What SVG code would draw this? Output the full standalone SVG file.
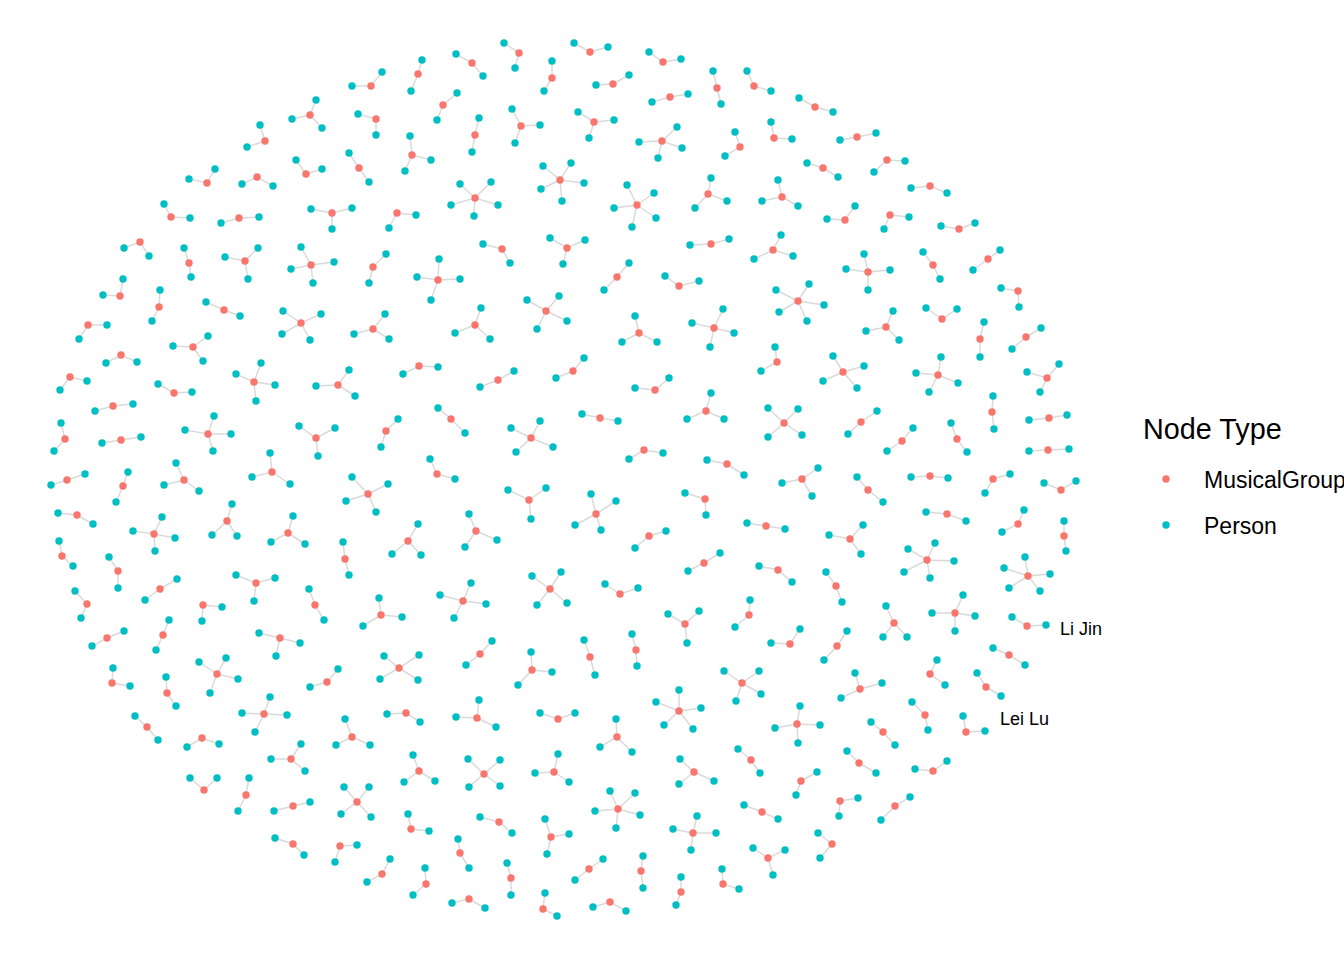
<svg xmlns="http://www.w3.org/2000/svg" xmlns:xlink="http://www.w3.org/1999/xlink" width="1344" height="960" viewBox="0 0 1344 960">
<style>
#edges path{fill:none;stroke:#dadada;stroke-width:1.5}
text{font-family:"Liberation Sans",Arial,sans-serif;fill:#000}
.lab{font-size:18px}
</style>
<defs>
<circle id="m" r="3.7" fill="#F8766D"/>
<circle id="p" r="3.7" fill="#00BFC4"/>
</defs>
<rect width="1344" height="960" fill="#fff"/>
<g id="edges">
<path d="M352 86L371 86 382 72"/><path d="M316 100L310 115 292 119M310 115L322 128"/><path d="M358 114L376 119 376 135"/><path d="M260 125L265 141 247 147"/><path d="M296 160L306 174 322 169"/><path d="M349 153L359 168 369 182"/><path d="M189 179L207 183 215 169"/><path d="M242 184L257 177 273 186"/><path d="M164 204L171 217 190 218"/><path d="M221 223L239 218 259 217"/>
<path d="M311 209L332 213 352 208M332 213L332 229"/><path d="M389 228L397 213 416 215"/><path d="M124 248L140 242 149 256"/><path d="M184 248L189 263 191 277"/><path d="M225 257L245 261 258 248M245 261L248 279"/><path d="M301 247L311 265 291 269M311 265L334 262M311 265L313 283"/><path d="M386 254L373 267 369 283"/><path d="M422 60L418 74 411 91"/><path d="M456 54L472 63 483 76"/><path d="M504 43L519 53 515 68"/>
<path d="M552 61L552 78 544 91"/><path d="M574 43L590 52 608 47"/><path d="M649 52L663 62 681 59"/><path d="M596 85L613 84 629 75"/><path d="M713 71L717 88 721 104"/><path d="M747 71L754 86 771 91"/><path d="M457 93L443 105 437 120"/><path d="M652 102L670 97 688 94"/><path d="M479 118L475 135 472 152"/><path d="M512 109L521 126 540 125M521 126L515 143"/>
<path d="M578 112L594 122 614 120M594 122L589 138"/><path d="M639 142L662 141 677 127M662 141L682 148M662 141L658 158"/><path d="M735 132L740 147 725 156"/><path d="M410 136L412 155 431 160M412 155L405 171"/><path d="M543 166L560 180 571 163M560 180L584 183M560 180L562 201M560 180L541 189"/><path d="M460 184L475 198 491 182M475 198L498 205M475 198L474 216M475 198L451 205"/><path d="M627 185L637 205 654 193M637 205L656 218M637 205L632 227M637 205L614 208"/><path d="M711 178L708 194 727 201M708 194L695 208"/><path d="M483 244L502 249 510 263"/><path d="M550 238L567 248 585 240M567 248L563 264"/>
<path d="M690 245L711 244 729 239"/><path d="M439 259L438 280 417 277M438 280L460 279M438 280L431 300"/><path d="M629 263L617 277 604 290"/><path d="M799 98L815 107 833 112"/><path d="M771 122L774 138 792 139"/><path d="M840 140L857 137 876 133"/><path d="M807 163L823 168 838 177"/><path d="M874 172L887 160 905 161"/><path d="M911 188L930 186 947 193"/><path d="M778 180L782 197 762 201M782 197L798 206"/>
<path d="M827 219L845 220 855 206"/><path d="M909 217L890 215 884 229"/><path d="M941 226L959 229 975 223"/><path d="M781 235L773 250 754 259M773 250L793 256"/><path d="M864 254L868 272 846 269M868 272L890 270M868 272L868 290"/><path d="M923 252L933 265 940 279"/><path d="M1000 250L988 259 973 270"/><path d="M123 279L120 296 103 295"/><path d="M160 290L159 307 152 321"/><path d="M206 302L224 310 240 316"/>
<path d="M283 311L301 323 321 314M301 323L310 340M301 323L282 334"/><path d="M385 314L373 329 354 334M373 329L389 339"/><path d="M107 325L88 325 79 339"/><path d="M173 346L193 347 208 336M193 347L203 361"/><path d="M106 363L121 355 137 362"/><path d="M87 381L70 377 60 390"/><path d="M236 374L254 382 261 363M254 382L275 385M254 382L256 401"/><path d="M349 370L338 385 316 386M338 385L355 396"/><path d="M158 384L174 393 192 392"/><path d="M95 411L113 406 133 404"/>
<path d="M61 423L65 439 54 451"/><path d="M102 443L121 440 141 437"/><path d="M185 430L208 434 214 416M208 434L231 434M208 434L213 451"/><path d="M299 426L316 438 335 428M316 438L318 456"/><path d="M398 419L386 431 381 447"/><path d="M51 485L67 480 85 474"/><path d="M128 472L123 486 116 502"/><path d="M176 463L184 480 164 485M184 480L199 491"/><path d="M270 453L272 472 252 477M272 472L290 484"/><path d="M352 477L368 494 388 484M368 494L346 501M368 494L376 512"/>
<path d="M403 374L419 366 438 367"/><path d="M665 276L679 286 699 281"/><path d="M481 308L475 325 455 333M475 325L490 339"/><path d="M527 300L546 311 559 296M546 311L567 321M546 311L537 329"/><path d="M635 316L639 333 622 342M639 333L657 342"/><path d="M723 309L714 328 692 323M714 328L734 333M714 328L710 347"/><path d="M480 387L498 380 514 371"/><path d="M556 378L573 371 584 358"/><path d="M635 388L655 390 669 378"/><path d="M438 408L451 419 465 433"/>
<path d="M511 428L531 438 540 421M531 438L553 447M531 438L516 452"/><path d="M582 414L600 418 618 421"/><path d="M711 393L706 411 687 419M706 411L724 419"/><path d="M629 459L644 450 663 453"/><path d="M707 460L727 464 744 475"/><path d="M430 459L437 474 455 479"/><path d="M776 290L798 301 809 284M798 301L824 305M798 301L807 321M798 301L779 312"/><path d="M1001 288L1018 291 1019 307"/><path d="M926 308L942 319 957 309"/><path d="M893 311L886 327 866 331M886 327L899 340"/>
<path d="M984 322L980 339 980 357"/><path d="M1041 328L1026 337 1012 349"/><path d="M775 347L777 362 761 371"/><path d="M833 356L843 372 864 366M843 372L857 388M843 372L823 381"/><path d="M941 357L938 375 916 373M938 375L958 383M938 375L929 392"/><path d="M1059 364L1047 378 1027 372M1047 378L1040 392"/><path d="M768 408L784 423 798 409M784 423L802 435M784 423L768 437"/><path d="M877 411L861 422 848 434"/><path d="M913 428L902 441 887 451"/><path d="M951 423L957 439 967 452"/>
<path d="M993 396L992 412 994 429"/><path d="M1029 420L1049 418 1067 415"/><path d="M1029 451L1048 450 1069 449"/><path d="M818 468L802 479 782 483M802 479L812 496"/><path d="M857 477L868 490 883 502"/><path d="M911 477L930 476 948 478"/><path d="M1010 474L993 479 985 493"/><path d="M1044 483L1061 490 1076 481"/><path d="M58 513L77 515 93 524"/><path d="M162 517L154 534 133 531M154 534L175 538M154 534L155 551"/>
<path d="M232 504L227 521 212 535M227 521L237 536"/><path d="M293 516L288 533 271 542M288 533L305 544"/><path d="M59 541L62 556 73 566"/><path d="M109 557L118 571 118 588"/><path d="M343 542L345 559 349 575"/><path d="M418 524L408 541 392 554M408 541L421 555"/><path d="M145 600L160 589 177 579"/><path d="M236 575L256 583 275 578M256 583L254 601"/><path d="M75 591L87 604 81 618"/><path d="M222 607L203 605 202 621"/>
<path d="M309 589L315 605 324 620"/><path d="M379 598L381 615 363 626M381 615L402 617"/><path d="M92 646L107 638 124 631"/><path d="M169 620L163 635 156 650"/><path d="M259 633L280 638 300 643M280 638L276 656"/><path d="M199 662L217 674 226 658M217 674L238 679M217 674L210 693"/><path d="M113 668L112 683 130 686"/><path d="M166 677L167 693 176 706"/><path d="M338 669L327 682 310 687"/><path d="M384 656L399 668 380 679M399 668L419 655M399 668L418 680"/>
<path d="M270 697L264 714 242 713M264 714L287 715M264 714L255 732"/><path d="M508 490L529 500 546 488M529 500L531 519"/><path d="M591 494L596 514 616 501M596 514L601 530M596 514L575 525"/><path d="M685 493L705 499 706 515"/><path d="M747 523L766 526 785 529"/><path d="M469 514L476 531 465 547M476 531L497 540"/><path d="M635 548L649 536 666 531"/><path d="M688 571L704 563 720 553"/><path d="M440 595L463 601 471 583M463 601L486 604M463 601L454 618"/><path d="M532 576L550 589 561 572M550 589L567 603M550 589L537 605"/>
<path d="M605 584L620 594 638 588"/><path d="M668 614L685 624 699 611M685 624L687 643"/><path d="M750 600L749 615 735 627"/><path d="M466 665L480 654 492 641"/><path d="M531 652L532 670 552 672M532 670L518 685"/><path d="M584 640L590 657 595 675"/><path d="M632 634L636 650 637 666"/><path d="M724 671L742 683 759 671M742 683L761 694M742 683L736 701"/><path d="M679 690L679 711 656 702M679 711L701 708M679 711L664 725M679 711L693 729"/><path d="M479 700L477 718 456 717M477 718L496 727"/>
<path d="M926 512L947 514 966 521"/><path d="M1024 510L1018 524 1002 532"/><path d="M1064 521L1064 536 1066 551"/><path d="M863 525L850 539 829 535M850 539L861 554"/><path d="M935 543L927 560 908 549M927 560L954 561M927 560L930 578M927 560L904 572"/><path d="M1025 557L1028 576 1004 568M1028 576L1050 574M1028 576L1040 591M1028 576L1009 588"/><path d="M759 566L778 570 792 582"/><path d="M826 572L836 586 842 602"/><path d="M886 606L894 623 883 637M894 623L907 637"/><path d="M963 595L955 613 932 613M955 613L975 616M955 613L955 631"/>
<path d="M1012 617L1027 626 1046 625"/><path d="M771 643L790 644 800 629"/><path d="M847 631L837 646 824 660"/><path d="M993 648L1009 655 1025 665"/><path d="M937 660L930 674 945 685"/><path d="M977 673L986 687 1001 696"/><path d="M855 673L860 689 882 683M860 689L841 698"/><path d="M912 702L925 715 928 730"/><path d="M135 716L147 727 158 740"/><path d="M187 747L202 738 219 744"/>
<path d="M301 744L291 759 271 759M291 759L305 771"/><path d="M345 719L352 737 336 745M352 737L370 745"/><path d="M387 714L406 713 420 722"/><path d="M190 778L204 790 217 778"/><path d="M249 778L246 795 238 811"/><path d="M274 811L293 806 310 802"/><path d="M344 787L357 802 369 787M357 802L341 814M357 802L371 817"/><path d="M275 838L293 844 304 855"/><path d="M357 845L340 846 335 862"/><path d="M390 859L382 874 367 882"/>
<path d="M540 713L558 719 575 713"/><path d="M616 719L617 737 600 747M617 737L632 752"/><path d="M413 755L419 771 404 782M419 771L435 781"/><path d="M468 759L484 774 500 760M484 774L469 787M484 774L500 786"/><path d="M558 754L554 772 535 773M554 772L569 782"/><path d="M680 759L694 772 679 784M694 772L714 781"/><path d="M738 749L751 760 760 773"/><path d="M610 791L618 809 635 793M618 809L640 815M618 809L616 828M618 809L595 811"/><path d="M697 816L693 833 673 829M693 833L716 833M693 833L691 850"/><path d="M408 814L411 829 429 831"/>
<path d="M480 817L499 822 512 833"/><path d="M545 819L551 837 569 834M551 837L547 854"/><path d="M744 805L762 812 778 819"/><path d="M458 839L460 853 469 868"/><path d="M507 863L511 878 511 895"/><path d="M575 880L589 869 603 859"/><path d="M643 856L641 871 643 888"/><path d="M425 868L426 884 413 895"/><path d="M681 877L681 892 676 905"/><path d="M722 869L723 884 739 889"/>
<path d="M452 903L469 899 485 908"/><path d="M545 893L543 909 557 916"/><path d="M593 907L610 902 626 911"/><path d="M753 848L768 858 785 850M768 858L773 875"/><path d="M800 706L797 724 775 728M797 724L820 725M797 724L798 743"/><path d="M871 722L883 732 895 745"/><path d="M963 716L966 732 985 731"/><path d="M847 751L859 763 876 773"/><path d="M915 769L933 771 947 761"/><path d="M817 772L801 781 796 795"/>
<path d="M858 798L840 801 839 816"/><path d="M910 797L895 806 881 820"/><path d="M818 833L832 844 820 858"/>
</g>
<g id="nodes">
<g id="s1"><use href="#m" x="371" y="86"/><use href="#p" x="352" y="86"/><use href="#p" x="382" y="72"/></g>
<g id="s2"><use href="#m" x="310" y="115"/><use href="#p" x="316" y="100"/><use href="#p" x="292" y="119"/><use href="#p" x="322" y="128"/></g>
<g id="s3"><use href="#m" x="376" y="119"/><use href="#p" x="358" y="114"/><use href="#p" x="376" y="135"/></g>
<g id="s4"><use href="#m" x="265" y="141"/><use href="#p" x="260" y="125"/><use href="#p" x="247" y="147"/></g>
<g id="s5"><use href="#m" x="306" y="174"/><use href="#p" x="296" y="160"/><use href="#p" x="322" y="169"/></g>
<g id="s6"><use href="#m" x="359" y="168"/><use href="#p" x="349" y="153"/><use href="#p" x="369" y="182"/></g>
<g id="s7"><use href="#m" x="207" y="183"/><use href="#p" x="189" y="179"/><use href="#p" x="215" y="169"/></g>
<g id="s8"><use href="#m" x="257" y="177"/><use href="#p" x="242" y="184"/><use href="#p" x="273" y="186"/></g>
<g id="s9"><use href="#m" x="171" y="217"/><use href="#p" x="164" y="204"/><use href="#p" x="190" y="218"/></g>
<g id="s10"><use href="#m" x="239" y="218"/><use href="#p" x="221" y="223"/><use href="#p" x="259" y="217"/></g>
<g id="s11"><use href="#m" x="332" y="213"/><use href="#p" x="311" y="209"/><use href="#p" x="352" y="208"/><use href="#p" x="332" y="229"/></g>
<g id="s12"><use href="#m" x="397" y="213"/><use href="#p" x="389" y="228"/><use href="#p" x="416" y="215"/></g>
<g id="s13"><use href="#m" x="140" y="242"/><use href="#p" x="124" y="248"/><use href="#p" x="149" y="256"/></g>
<g id="s14"><use href="#m" x="189" y="263"/><use href="#p" x="184" y="248"/><use href="#p" x="191" y="277"/></g>
<g id="s15"><use href="#m" x="245" y="261"/><use href="#p" x="225" y="257"/><use href="#p" x="258" y="248"/><use href="#p" x="248" y="279"/></g>
<g id="s16"><use href="#m" x="311" y="265"/><use href="#p" x="301" y="247"/><use href="#p" x="291" y="269"/><use href="#p" x="334" y="262"/><use href="#p" x="313" y="283"/></g>
<g id="s17"><use href="#m" x="373" y="267"/><use href="#p" x="386" y="254"/><use href="#p" x="369" y="283"/></g>
<g id="s18"><use href="#m" x="418" y="74"/><use href="#p" x="422" y="60"/><use href="#p" x="411" y="91"/></g>
<g id="s19"><use href="#m" x="472" y="63"/><use href="#p" x="456" y="54"/><use href="#p" x="483" y="76"/></g>
<g id="s20"><use href="#m" x="519" y="53"/><use href="#p" x="504" y="43"/><use href="#p" x="515" y="68"/></g>
<g id="s21"><use href="#m" x="552" y="78"/><use href="#p" x="552" y="61"/><use href="#p" x="544" y="91"/></g>
<g id="s22"><use href="#m" x="590" y="52"/><use href="#p" x="574" y="43"/><use href="#p" x="608" y="47"/></g>
<g id="s23"><use href="#m" x="663" y="62"/><use href="#p" x="649" y="52"/><use href="#p" x="681" y="59"/></g>
<g id="s24"><use href="#m" x="613" y="84"/><use href="#p" x="596" y="85"/><use href="#p" x="629" y="75"/></g>
<g id="s25"><use href="#m" x="717" y="88"/><use href="#p" x="713" y="71"/><use href="#p" x="721" y="104"/></g>
<g id="s26"><use href="#m" x="754" y="86"/><use href="#p" x="747" y="71"/><use href="#p" x="771" y="91"/></g>
<g id="s27"><use href="#m" x="443" y="105"/><use href="#p" x="457" y="93"/><use href="#p" x="437" y="120"/></g>
<g id="s28"><use href="#m" x="670" y="97"/><use href="#p" x="652" y="102"/><use href="#p" x="688" y="94"/></g>
<g id="s29"><use href="#m" x="475" y="135"/><use href="#p" x="479" y="118"/><use href="#p" x="472" y="152"/></g>
<g id="s30"><use href="#m" x="521" y="126"/><use href="#p" x="512" y="109"/><use href="#p" x="540" y="125"/><use href="#p" x="515" y="143"/></g>
<g id="s31"><use href="#m" x="594" y="122"/><use href="#p" x="578" y="112"/><use href="#p" x="614" y="120"/><use href="#p" x="589" y="138"/></g>
<g id="s32"><use href="#m" x="662" y="141"/><use href="#p" x="639" y="142"/><use href="#p" x="677" y="127"/><use href="#p" x="682" y="148"/><use href="#p" x="658" y="158"/></g>
<g id="s33"><use href="#m" x="740" y="147"/><use href="#p" x="735" y="132"/><use href="#p" x="725" y="156"/></g>
<g id="s34"><use href="#m" x="412" y="155"/><use href="#p" x="410" y="136"/><use href="#p" x="431" y="160"/><use href="#p" x="405" y="171"/></g>
<g id="s35"><use href="#m" x="560" y="180"/><use href="#p" x="543" y="166"/><use href="#p" x="571" y="163"/><use href="#p" x="584" y="183"/><use href="#p" x="562" y="201"/><use href="#p" x="541" y="189"/></g>
<g id="s36"><use href="#m" x="475" y="198"/><use href="#p" x="460" y="184"/><use href="#p" x="491" y="182"/><use href="#p" x="498" y="205"/><use href="#p" x="474" y="216"/><use href="#p" x="451" y="205"/></g>
<g id="s37"><use href="#m" x="637" y="205"/><use href="#p" x="627" y="185"/><use href="#p" x="654" y="193"/><use href="#p" x="656" y="218"/><use href="#p" x="632" y="227"/><use href="#p" x="614" y="208"/></g>
<g id="s38"><use href="#m" x="708" y="194"/><use href="#p" x="711" y="178"/><use href="#p" x="727" y="201"/><use href="#p" x="695" y="208"/></g>
<g id="s39"><use href="#m" x="502" y="249"/><use href="#p" x="483" y="244"/><use href="#p" x="510" y="263"/></g>
<g id="s40"><use href="#m" x="567" y="248"/><use href="#p" x="550" y="238"/><use href="#p" x="585" y="240"/><use href="#p" x="563" y="264"/></g>
<g id="s41"><use href="#m" x="711" y="244"/><use href="#p" x="690" y="245"/><use href="#p" x="729" y="239"/></g>
<g id="s42"><use href="#m" x="438" y="280"/><use href="#p" x="439" y="259"/><use href="#p" x="417" y="277"/><use href="#p" x="460" y="279"/><use href="#p" x="431" y="300"/></g>
<g id="s43"><use href="#m" x="617" y="277"/><use href="#p" x="629" y="263"/><use href="#p" x="604" y="290"/></g>
<g id="s44"><use href="#m" x="815" y="107"/><use href="#p" x="799" y="98"/><use href="#p" x="833" y="112"/></g>
<g id="s45"><use href="#m" x="774" y="138"/><use href="#p" x="771" y="122"/><use href="#p" x="792" y="139"/></g>
<g id="s46"><use href="#m" x="857" y="137"/><use href="#p" x="840" y="140"/><use href="#p" x="876" y="133"/></g>
<g id="s47"><use href="#m" x="823" y="168"/><use href="#p" x="807" y="163"/><use href="#p" x="838" y="177"/></g>
<g id="s48"><use href="#m" x="887" y="160"/><use href="#p" x="874" y="172"/><use href="#p" x="905" y="161"/></g>
<g id="s49"><use href="#m" x="930" y="186"/><use href="#p" x="911" y="188"/><use href="#p" x="947" y="193"/></g>
<g id="s50"><use href="#m" x="782" y="197"/><use href="#p" x="778" y="180"/><use href="#p" x="762" y="201"/><use href="#p" x="798" y="206"/></g>
<g id="s51"><use href="#m" x="845" y="220"/><use href="#p" x="827" y="219"/><use href="#p" x="855" y="206"/></g>
<g id="s52"><use href="#m" x="890" y="215"/><use href="#p" x="909" y="217"/><use href="#p" x="884" y="229"/></g>
<g id="s53"><use href="#m" x="959" y="229"/><use href="#p" x="941" y="226"/><use href="#p" x="975" y="223"/></g>
<g id="s54"><use href="#m" x="773" y="250"/><use href="#p" x="781" y="235"/><use href="#p" x="754" y="259"/><use href="#p" x="793" y="256"/></g>
<g id="s55"><use href="#m" x="868" y="272"/><use href="#p" x="864" y="254"/><use href="#p" x="846" y="269"/><use href="#p" x="890" y="270"/><use href="#p" x="868" y="290"/></g>
<g id="s56"><use href="#m" x="933" y="265"/><use href="#p" x="923" y="252"/><use href="#p" x="940" y="279"/></g>
<g id="s57"><use href="#m" x="988" y="259"/><use href="#p" x="1000" y="250"/><use href="#p" x="973" y="270"/></g>
<g id="s58"><use href="#m" x="120" y="296"/><use href="#p" x="123" y="279"/><use href="#p" x="103" y="295"/></g>
<g id="s59"><use href="#m" x="159" y="307"/><use href="#p" x="160" y="290"/><use href="#p" x="152" y="321"/></g>
<g id="s60"><use href="#m" x="224" y="310"/><use href="#p" x="206" y="302"/><use href="#p" x="240" y="316"/></g>
<g id="s61"><use href="#m" x="301" y="323"/><use href="#p" x="283" y="311"/><use href="#p" x="321" y="314"/><use href="#p" x="310" y="340"/><use href="#p" x="282" y="334"/></g>
<g id="s62"><use href="#m" x="373" y="329"/><use href="#p" x="385" y="314"/><use href="#p" x="354" y="334"/><use href="#p" x="389" y="339"/></g>
<g id="s63"><use href="#m" x="88" y="325"/><use href="#p" x="107" y="325"/><use href="#p" x="79" y="339"/></g>
<g id="s64"><use href="#m" x="193" y="347"/><use href="#p" x="173" y="346"/><use href="#p" x="208" y="336"/><use href="#p" x="203" y="361"/></g>
<g id="s65"><use href="#m" x="121" y="355"/><use href="#p" x="106" y="363"/><use href="#p" x="137" y="362"/></g>
<g id="s66"><use href="#m" x="70" y="377"/><use href="#p" x="87" y="381"/><use href="#p" x="60" y="390"/></g>
<g id="s67"><use href="#m" x="254" y="382"/><use href="#p" x="236" y="374"/><use href="#p" x="261" y="363"/><use href="#p" x="275" y="385"/><use href="#p" x="256" y="401"/></g>
<g id="s68"><use href="#m" x="338" y="385"/><use href="#p" x="349" y="370"/><use href="#p" x="316" y="386"/><use href="#p" x="355" y="396"/></g>
<g id="s69"><use href="#m" x="174" y="393"/><use href="#p" x="158" y="384"/><use href="#p" x="192" y="392"/></g>
<g id="s70"><use href="#m" x="113" y="406"/><use href="#p" x="95" y="411"/><use href="#p" x="133" y="404"/></g>
<g id="s71"><use href="#m" x="65" y="439"/><use href="#p" x="61" y="423"/><use href="#p" x="54" y="451"/></g>
<g id="s72"><use href="#m" x="121" y="440"/><use href="#p" x="102" y="443"/><use href="#p" x="141" y="437"/></g>
<g id="s73"><use href="#m" x="208" y="434"/><use href="#p" x="185" y="430"/><use href="#p" x="214" y="416"/><use href="#p" x="231" y="434"/><use href="#p" x="213" y="451"/></g>
<g id="s74"><use href="#m" x="316" y="438"/><use href="#p" x="299" y="426"/><use href="#p" x="335" y="428"/><use href="#p" x="318" y="456"/></g>
<g id="s75"><use href="#m" x="386" y="431"/><use href="#p" x="398" y="419"/><use href="#p" x="381" y="447"/></g>
<g id="s76"><use href="#m" x="67" y="480"/><use href="#p" x="51" y="485"/><use href="#p" x="85" y="474"/></g>
<g id="s77"><use href="#m" x="123" y="486"/><use href="#p" x="128" y="472"/><use href="#p" x="116" y="502"/></g>
<g id="s78"><use href="#m" x="184" y="480"/><use href="#p" x="176" y="463"/><use href="#p" x="164" y="485"/><use href="#p" x="199" y="491"/></g>
<g id="s79"><use href="#m" x="272" y="472"/><use href="#p" x="270" y="453"/><use href="#p" x="252" y="477"/><use href="#p" x="290" y="484"/></g>
<g id="s80"><use href="#m" x="368" y="494"/><use href="#p" x="352" y="477"/><use href="#p" x="388" y="484"/><use href="#p" x="346" y="501"/><use href="#p" x="376" y="512"/></g>
<g id="s81"><use href="#m" x="419" y="366"/><use href="#p" x="403" y="374"/><use href="#p" x="438" y="367"/></g>
<g id="s82"><use href="#m" x="679" y="286"/><use href="#p" x="665" y="276"/><use href="#p" x="699" y="281"/></g>
<g id="s83"><use href="#m" x="475" y="325"/><use href="#p" x="481" y="308"/><use href="#p" x="455" y="333"/><use href="#p" x="490" y="339"/></g>
<g id="s84"><use href="#m" x="546" y="311"/><use href="#p" x="527" y="300"/><use href="#p" x="559" y="296"/><use href="#p" x="567" y="321"/><use href="#p" x="537" y="329"/></g>
<g id="s85"><use href="#m" x="639" y="333"/><use href="#p" x="635" y="316"/><use href="#p" x="622" y="342"/><use href="#p" x="657" y="342"/></g>
<g id="s86"><use href="#m" x="714" y="328"/><use href="#p" x="723" y="309"/><use href="#p" x="692" y="323"/><use href="#p" x="734" y="333"/><use href="#p" x="710" y="347"/></g>
<g id="s87"><use href="#m" x="498" y="380"/><use href="#p" x="480" y="387"/><use href="#p" x="514" y="371"/></g>
<g id="s88"><use href="#m" x="573" y="371"/><use href="#p" x="556" y="378"/><use href="#p" x="584" y="358"/></g>
<g id="s89"><use href="#m" x="655" y="390"/><use href="#p" x="635" y="388"/><use href="#p" x="669" y="378"/></g>
<g id="s90"><use href="#m" x="451" y="419"/><use href="#p" x="438" y="408"/><use href="#p" x="465" y="433"/></g>
<g id="s91"><use href="#m" x="531" y="438"/><use href="#p" x="511" y="428"/><use href="#p" x="540" y="421"/><use href="#p" x="553" y="447"/><use href="#p" x="516" y="452"/></g>
<g id="s92"><use href="#m" x="600" y="418"/><use href="#p" x="582" y="414"/><use href="#p" x="618" y="421"/></g>
<g id="s93"><use href="#m" x="706" y="411"/><use href="#p" x="711" y="393"/><use href="#p" x="687" y="419"/><use href="#p" x="724" y="419"/></g>
<g id="s94"><use href="#m" x="644" y="450"/><use href="#p" x="629" y="459"/><use href="#p" x="663" y="453"/></g>
<g id="s95"><use href="#m" x="727" y="464"/><use href="#p" x="707" y="460"/><use href="#p" x="744" y="475"/></g>
<g id="s96"><use href="#m" x="437" y="474"/><use href="#p" x="430" y="459"/><use href="#p" x="455" y="479"/></g>
<g id="s97"><use href="#m" x="798" y="301"/><use href="#p" x="776" y="290"/><use href="#p" x="809" y="284"/><use href="#p" x="824" y="305"/><use href="#p" x="807" y="321"/><use href="#p" x="779" y="312"/></g>
<g id="s98"><use href="#m" x="1018" y="291"/><use href="#p" x="1001" y="288"/><use href="#p" x="1019" y="307"/></g>
<g id="s99"><use href="#m" x="942" y="319"/><use href="#p" x="926" y="308"/><use href="#p" x="957" y="309"/></g>
<g id="s100"><use href="#m" x="886" y="327"/><use href="#p" x="893" y="311"/><use href="#p" x="866" y="331"/><use href="#p" x="899" y="340"/></g>
<g id="s101"><use href="#m" x="980" y="339"/><use href="#p" x="984" y="322"/><use href="#p" x="980" y="357"/></g>
<g id="s102"><use href="#m" x="1026" y="337"/><use href="#p" x="1041" y="328"/><use href="#p" x="1012" y="349"/></g>
<g id="s103"><use href="#m" x="777" y="362"/><use href="#p" x="775" y="347"/><use href="#p" x="761" y="371"/></g>
<g id="s104"><use href="#m" x="843" y="372"/><use href="#p" x="833" y="356"/><use href="#p" x="864" y="366"/><use href="#p" x="857" y="388"/><use href="#p" x="823" y="381"/></g>
<g id="s105"><use href="#m" x="938" y="375"/><use href="#p" x="941" y="357"/><use href="#p" x="916" y="373"/><use href="#p" x="958" y="383"/><use href="#p" x="929" y="392"/></g>
<g id="s106"><use href="#m" x="1047" y="378"/><use href="#p" x="1059" y="364"/><use href="#p" x="1027" y="372"/><use href="#p" x="1040" y="392"/></g>
<g id="s107"><use href="#m" x="784" y="423"/><use href="#p" x="768" y="408"/><use href="#p" x="798" y="409"/><use href="#p" x="802" y="435"/><use href="#p" x="768" y="437"/></g>
<g id="s108"><use href="#m" x="861" y="422"/><use href="#p" x="877" y="411"/><use href="#p" x="848" y="434"/></g>
<g id="s109"><use href="#m" x="902" y="441"/><use href="#p" x="913" y="428"/><use href="#p" x="887" y="451"/></g>
<g id="s110"><use href="#m" x="957" y="439"/><use href="#p" x="951" y="423"/><use href="#p" x="967" y="452"/></g>
<g id="s111"><use href="#m" x="992" y="412"/><use href="#p" x="993" y="396"/><use href="#p" x="994" y="429"/></g>
<g id="s112"><use href="#m" x="1049" y="418"/><use href="#p" x="1029" y="420"/><use href="#p" x="1067" y="415"/></g>
<g id="s113"><use href="#m" x="1048" y="450"/><use href="#p" x="1029" y="451"/><use href="#p" x="1069" y="449"/></g>
<g id="s114"><use href="#m" x="802" y="479"/><use href="#p" x="818" y="468"/><use href="#p" x="782" y="483"/><use href="#p" x="812" y="496"/></g>
<g id="s115"><use href="#m" x="868" y="490"/><use href="#p" x="857" y="477"/><use href="#p" x="883" y="502"/></g>
<g id="s116"><use href="#m" x="930" y="476"/><use href="#p" x="911" y="477"/><use href="#p" x="948" y="478"/></g>
<g id="s117"><use href="#m" x="993" y="479"/><use href="#p" x="1010" y="474"/><use href="#p" x="985" y="493"/></g>
<g id="s118"><use href="#m" x="1061" y="490"/><use href="#p" x="1044" y="483"/><use href="#p" x="1076" y="481"/></g>
<g id="s119"><use href="#m" x="77" y="515"/><use href="#p" x="58" y="513"/><use href="#p" x="93" y="524"/></g>
<g id="s120"><use href="#m" x="154" y="534"/><use href="#p" x="162" y="517"/><use href="#p" x="133" y="531"/><use href="#p" x="175" y="538"/><use href="#p" x="155" y="551"/></g>
<g id="s121"><use href="#m" x="227" y="521"/><use href="#p" x="232" y="504"/><use href="#p" x="212" y="535"/><use href="#p" x="237" y="536"/></g>
<g id="s122"><use href="#m" x="288" y="533"/><use href="#p" x="293" y="516"/><use href="#p" x="271" y="542"/><use href="#p" x="305" y="544"/></g>
<g id="s123"><use href="#m" x="62" y="556"/><use href="#p" x="59" y="541"/><use href="#p" x="73" y="566"/></g>
<g id="s124"><use href="#m" x="118" y="571"/><use href="#p" x="109" y="557"/><use href="#p" x="118" y="588"/></g>
<g id="s125"><use href="#m" x="345" y="559"/><use href="#p" x="343" y="542"/><use href="#p" x="349" y="575"/></g>
<g id="s126"><use href="#m" x="408" y="541"/><use href="#p" x="418" y="524"/><use href="#p" x="392" y="554"/><use href="#p" x="421" y="555"/></g>
<g id="s127"><use href="#m" x="160" y="589"/><use href="#p" x="145" y="600"/><use href="#p" x="177" y="579"/></g>
<g id="s128"><use href="#m" x="256" y="583"/><use href="#p" x="236" y="575"/><use href="#p" x="275" y="578"/><use href="#p" x="254" y="601"/></g>
<g id="s129"><use href="#m" x="87" y="604"/><use href="#p" x="75" y="591"/><use href="#p" x="81" y="618"/></g>
<g id="s130"><use href="#m" x="203" y="605"/><use href="#p" x="222" y="607"/><use href="#p" x="202" y="621"/></g>
<g id="s131"><use href="#m" x="315" y="605"/><use href="#p" x="309" y="589"/><use href="#p" x="324" y="620"/></g>
<g id="s132"><use href="#m" x="381" y="615"/><use href="#p" x="379" y="598"/><use href="#p" x="363" y="626"/><use href="#p" x="402" y="617"/></g>
<g id="s133"><use href="#m" x="107" y="638"/><use href="#p" x="92" y="646"/><use href="#p" x="124" y="631"/></g>
<g id="s134"><use href="#m" x="163" y="635"/><use href="#p" x="169" y="620"/><use href="#p" x="156" y="650"/></g>
<g id="s135"><use href="#m" x="280" y="638"/><use href="#p" x="259" y="633"/><use href="#p" x="300" y="643"/><use href="#p" x="276" y="656"/></g>
<g id="s136"><use href="#m" x="217" y="674"/><use href="#p" x="199" y="662"/><use href="#p" x="226" y="658"/><use href="#p" x="238" y="679"/><use href="#p" x="210" y="693"/></g>
<g id="s137"><use href="#m" x="112" y="683"/><use href="#p" x="113" y="668"/><use href="#p" x="130" y="686"/></g>
<g id="s138"><use href="#m" x="167" y="693"/><use href="#p" x="166" y="677"/><use href="#p" x="176" y="706"/></g>
<g id="s139"><use href="#m" x="327" y="682"/><use href="#p" x="338" y="669"/><use href="#p" x="310" y="687"/></g>
<g id="s140"><use href="#m" x="399" y="668"/><use href="#p" x="384" y="656"/><use href="#p" x="380" y="679"/><use href="#p" x="419" y="655"/><use href="#p" x="418" y="680"/></g>
<g id="s141"><use href="#m" x="264" y="714"/><use href="#p" x="270" y="697"/><use href="#p" x="242" y="713"/><use href="#p" x="287" y="715"/><use href="#p" x="255" y="732"/></g>
<g id="s142"><use href="#m" x="529" y="500"/><use href="#p" x="508" y="490"/><use href="#p" x="546" y="488"/><use href="#p" x="531" y="519"/></g>
<g id="s143"><use href="#m" x="596" y="514"/><use href="#p" x="591" y="494"/><use href="#p" x="616" y="501"/><use href="#p" x="601" y="530"/><use href="#p" x="575" y="525"/></g>
<g id="s144"><use href="#m" x="705" y="499"/><use href="#p" x="685" y="493"/><use href="#p" x="706" y="515"/></g>
<g id="s145"><use href="#m" x="766" y="526"/><use href="#p" x="747" y="523"/><use href="#p" x="785" y="529"/></g>
<g id="s146"><use href="#m" x="476" y="531"/><use href="#p" x="469" y="514"/><use href="#p" x="465" y="547"/><use href="#p" x="497" y="540"/></g>
<g id="s147"><use href="#m" x="649" y="536"/><use href="#p" x="635" y="548"/><use href="#p" x="666" y="531"/></g>
<g id="s148"><use href="#m" x="704" y="563"/><use href="#p" x="688" y="571"/><use href="#p" x="720" y="553"/></g>
<g id="s149"><use href="#m" x="463" y="601"/><use href="#p" x="440" y="595"/><use href="#p" x="471" y="583"/><use href="#p" x="486" y="604"/><use href="#p" x="454" y="618"/></g>
<g id="s150"><use href="#m" x="550" y="589"/><use href="#p" x="532" y="576"/><use href="#p" x="561" y="572"/><use href="#p" x="567" y="603"/><use href="#p" x="537" y="605"/></g>
<g id="s151"><use href="#m" x="620" y="594"/><use href="#p" x="605" y="584"/><use href="#p" x="638" y="588"/></g>
<g id="s152"><use href="#m" x="685" y="624"/><use href="#p" x="668" y="614"/><use href="#p" x="699" y="611"/><use href="#p" x="687" y="643"/></g>
<g id="s153"><use href="#m" x="749" y="615"/><use href="#p" x="750" y="600"/><use href="#p" x="735" y="627"/></g>
<g id="s154"><use href="#m" x="480" y="654"/><use href="#p" x="466" y="665"/><use href="#p" x="492" y="641"/></g>
<g id="s155"><use href="#m" x="532" y="670"/><use href="#p" x="531" y="652"/><use href="#p" x="552" y="672"/><use href="#p" x="518" y="685"/></g>
<g id="s156"><use href="#m" x="590" y="657"/><use href="#p" x="584" y="640"/><use href="#p" x="595" y="675"/></g>
<g id="s157"><use href="#m" x="636" y="650"/><use href="#p" x="632" y="634"/><use href="#p" x="637" y="666"/></g>
<g id="s158"><use href="#m" x="742" y="683"/><use href="#p" x="724" y="671"/><use href="#p" x="759" y="671"/><use href="#p" x="761" y="694"/><use href="#p" x="736" y="701"/></g>
<g id="s159"><use href="#m" x="679" y="711"/><use href="#p" x="679" y="690"/><use href="#p" x="656" y="702"/><use href="#p" x="701" y="708"/><use href="#p" x="664" y="725"/><use href="#p" x="693" y="729"/></g>
<g id="s160"><use href="#m" x="477" y="718"/><use href="#p" x="479" y="700"/><use href="#p" x="456" y="717"/><use href="#p" x="496" y="727"/></g>
<g id="s161"><use href="#m" x="947" y="514"/><use href="#p" x="926" y="512"/><use href="#p" x="966" y="521"/></g>
<g id="s162"><use href="#m" x="1018" y="524"/><use href="#p" x="1024" y="510"/><use href="#p" x="1002" y="532"/></g>
<g id="s163"><use href="#m" x="1064" y="536"/><use href="#p" x="1064" y="521"/><use href="#p" x="1066" y="551"/></g>
<g id="s164"><use href="#m" x="850" y="539"/><use href="#p" x="863" y="525"/><use href="#p" x="829" y="535"/><use href="#p" x="861" y="554"/></g>
<g id="s165"><use href="#m" x="927" y="560"/><use href="#p" x="935" y="543"/><use href="#p" x="908" y="549"/><use href="#p" x="954" y="561"/><use href="#p" x="930" y="578"/><use href="#p" x="904" y="572"/></g>
<g id="s166"><use href="#m" x="1028" y="576"/><use href="#p" x="1025" y="557"/><use href="#p" x="1004" y="568"/><use href="#p" x="1050" y="574"/><use href="#p" x="1040" y="591"/><use href="#p" x="1009" y="588"/></g>
<g id="s167"><use href="#m" x="778" y="570"/><use href="#p" x="759" y="566"/><use href="#p" x="792" y="582"/></g>
<g id="s168"><use href="#m" x="836" y="586"/><use href="#p" x="826" y="572"/><use href="#p" x="842" y="602"/></g>
<g id="s169"><use href="#m" x="894" y="623"/><use href="#p" x="886" y="606"/><use href="#p" x="883" y="637"/><use href="#p" x="907" y="637"/></g>
<g id="s170"><use href="#m" x="955" y="613"/><use href="#p" x="963" y="595"/><use href="#p" x="932" y="613"/><use href="#p" x="975" y="616"/><use href="#p" x="955" y="631"/></g>
<g id="s171"><use href="#m" x="1027" y="626"/><use href="#p" x="1012" y="617"/><use href="#p" x="1046" y="625"/></g>
<g id="s172"><use href="#m" x="790" y="644"/><use href="#p" x="771" y="643"/><use href="#p" x="800" y="629"/></g>
<g id="s173"><use href="#m" x="837" y="646"/><use href="#p" x="847" y="631"/><use href="#p" x="824" y="660"/></g>
<g id="s174"><use href="#m" x="1009" y="655"/><use href="#p" x="993" y="648"/><use href="#p" x="1025" y="665"/></g>
<g id="s175"><use href="#m" x="930" y="674"/><use href="#p" x="937" y="660"/><use href="#p" x="945" y="685"/></g>
<g id="s176"><use href="#m" x="986" y="687"/><use href="#p" x="977" y="673"/><use href="#p" x="1001" y="696"/></g>
<g id="s177"><use href="#m" x="860" y="689"/><use href="#p" x="855" y="673"/><use href="#p" x="882" y="683"/><use href="#p" x="841" y="698"/></g>
<g id="s178"><use href="#m" x="925" y="715"/><use href="#p" x="912" y="702"/><use href="#p" x="928" y="730"/></g>
<g id="s179"><use href="#m" x="147" y="727"/><use href="#p" x="135" y="716"/><use href="#p" x="158" y="740"/></g>
<g id="s180"><use href="#m" x="202" y="738"/><use href="#p" x="187" y="747"/><use href="#p" x="219" y="744"/></g>
<g id="s181"><use href="#m" x="291" y="759"/><use href="#p" x="301" y="744"/><use href="#p" x="271" y="759"/><use href="#p" x="305" y="771"/></g>
<g id="s182"><use href="#m" x="352" y="737"/><use href="#p" x="345" y="719"/><use href="#p" x="336" y="745"/><use href="#p" x="370" y="745"/></g>
<g id="s183"><use href="#m" x="406" y="713"/><use href="#p" x="387" y="714"/><use href="#p" x="420" y="722"/></g>
<g id="s184"><use href="#m" x="204" y="790"/><use href="#p" x="190" y="778"/><use href="#p" x="217" y="778"/></g>
<g id="s185"><use href="#m" x="246" y="795"/><use href="#p" x="249" y="778"/><use href="#p" x="238" y="811"/></g>
<g id="s186"><use href="#m" x="293" y="806"/><use href="#p" x="274" y="811"/><use href="#p" x="310" y="802"/></g>
<g id="s187"><use href="#m" x="357" y="802"/><use href="#p" x="344" y="787"/><use href="#p" x="369" y="787"/><use href="#p" x="341" y="814"/><use href="#p" x="371" y="817"/></g>
<g id="s188"><use href="#m" x="293" y="844"/><use href="#p" x="275" y="838"/><use href="#p" x="304" y="855"/></g>
<g id="s189"><use href="#m" x="340" y="846"/><use href="#p" x="357" y="845"/><use href="#p" x="335" y="862"/></g>
<g id="s190"><use href="#m" x="382" y="874"/><use href="#p" x="390" y="859"/><use href="#p" x="367" y="882"/></g>
<g id="s191"><use href="#m" x="558" y="719"/><use href="#p" x="540" y="713"/><use href="#p" x="575" y="713"/></g>
<g id="s192"><use href="#m" x="617" y="737"/><use href="#p" x="616" y="719"/><use href="#p" x="600" y="747"/><use href="#p" x="632" y="752"/></g>
<g id="s193"><use href="#m" x="419" y="771"/><use href="#p" x="413" y="755"/><use href="#p" x="404" y="782"/><use href="#p" x="435" y="781"/></g>
<g id="s194"><use href="#m" x="484" y="774"/><use href="#p" x="468" y="759"/><use href="#p" x="500" y="760"/><use href="#p" x="469" y="787"/><use href="#p" x="500" y="786"/></g>
<g id="s195"><use href="#m" x="554" y="772"/><use href="#p" x="558" y="754"/><use href="#p" x="535" y="773"/><use href="#p" x="569" y="782"/></g>
<g id="s196"><use href="#m" x="694" y="772"/><use href="#p" x="680" y="759"/><use href="#p" x="679" y="784"/><use href="#p" x="714" y="781"/></g>
<g id="s197"><use href="#m" x="751" y="760"/><use href="#p" x="738" y="749"/><use href="#p" x="760" y="773"/></g>
<g id="s198"><use href="#m" x="618" y="809"/><use href="#p" x="610" y="791"/><use href="#p" x="635" y="793"/><use href="#p" x="640" y="815"/><use href="#p" x="616" y="828"/><use href="#p" x="595" y="811"/></g>
<g id="s199"><use href="#m" x="693" y="833"/><use href="#p" x="697" y="816"/><use href="#p" x="673" y="829"/><use href="#p" x="716" y="833"/><use href="#p" x="691" y="850"/></g>
<g id="s200"><use href="#m" x="411" y="829"/><use href="#p" x="408" y="814"/><use href="#p" x="429" y="831"/></g>
<g id="s201"><use href="#m" x="499" y="822"/><use href="#p" x="480" y="817"/><use href="#p" x="512" y="833"/></g>
<g id="s202"><use href="#m" x="551" y="837"/><use href="#p" x="545" y="819"/><use href="#p" x="569" y="834"/><use href="#p" x="547" y="854"/></g>
<g id="s203"><use href="#m" x="762" y="812"/><use href="#p" x="744" y="805"/><use href="#p" x="778" y="819"/></g>
<g id="s204"><use href="#m" x="460" y="853"/><use href="#p" x="458" y="839"/><use href="#p" x="469" y="868"/></g>
<g id="s205"><use href="#m" x="511" y="878"/><use href="#p" x="507" y="863"/><use href="#p" x="511" y="895"/></g>
<g id="s206"><use href="#m" x="589" y="869"/><use href="#p" x="575" y="880"/><use href="#p" x="603" y="859"/></g>
<g id="s207"><use href="#m" x="641" y="871"/><use href="#p" x="643" y="856"/><use href="#p" x="643" y="888"/></g>
<g id="s208"><use href="#m" x="426" y="884"/><use href="#p" x="425" y="868"/><use href="#p" x="413" y="895"/></g>
<g id="s209"><use href="#m" x="681" y="892"/><use href="#p" x="681" y="877"/><use href="#p" x="676" y="905"/></g>
<g id="s210"><use href="#m" x="723" y="884"/><use href="#p" x="722" y="869"/><use href="#p" x="739" y="889"/></g>
<g id="s211"><use href="#m" x="469" y="899"/><use href="#p" x="452" y="903"/><use href="#p" x="485" y="908"/></g>
<g id="s212"><use href="#m" x="543" y="909"/><use href="#p" x="545" y="893"/><use href="#p" x="557" y="916"/></g>
<g id="s213"><use href="#m" x="610" y="902"/><use href="#p" x="593" y="907"/><use href="#p" x="626" y="911"/></g>
<g id="s214"><use href="#m" x="768" y="858"/><use href="#p" x="753" y="848"/><use href="#p" x="785" y="850"/><use href="#p" x="773" y="875"/></g>
<g id="s215"><use href="#m" x="797" y="724"/><use href="#p" x="800" y="706"/><use href="#p" x="775" y="728"/><use href="#p" x="820" y="725"/><use href="#p" x="798" y="743"/></g>
<g id="s216"><use href="#m" x="883" y="732"/><use href="#p" x="871" y="722"/><use href="#p" x="895" y="745"/></g>
<g id="s217"><use href="#m" x="966" y="732"/><use href="#p" x="963" y="716"/><use href="#p" x="985" y="731"/></g>
<g id="s218"><use href="#m" x="859" y="763"/><use href="#p" x="847" y="751"/><use href="#p" x="876" y="773"/></g>
<g id="s219"><use href="#m" x="933" y="771"/><use href="#p" x="915" y="769"/><use href="#p" x="947" y="761"/></g>
<g id="s220"><use href="#m" x="801" y="781"/><use href="#p" x="817" y="772"/><use href="#p" x="796" y="795"/></g>
<g id="s221"><use href="#m" x="840" y="801"/><use href="#p" x="858" y="798"/><use href="#p" x="839" y="816"/></g>
<g id="s222"><use href="#m" x="895" y="806"/><use href="#p" x="910" y="797"/><use href="#p" x="881" y="820"/></g>
<g id="s223"><use href="#m" x="832" y="844"/><use href="#p" x="818" y="833"/><use href="#p" x="820" y="858"/></g>
</g>
<g id="labels">
<text class="lab" x="1060" y="635">Li Jin</text>
<text class="lab" x="1000" y="725">Lei Lu</text>
</g>
<g id="legend">
<text x="1143" y="438.5" font-size="28.8">Node Type</text>
<use href="#m" x="1166" y="479"/>
<text x="1204" y="487.5" font-size="23">MusicalGroup</text>
<use href="#p" x="1166" y="525"/>
<text x="1204" y="533.5" font-size="23">Person</text>
</g>
</svg>
